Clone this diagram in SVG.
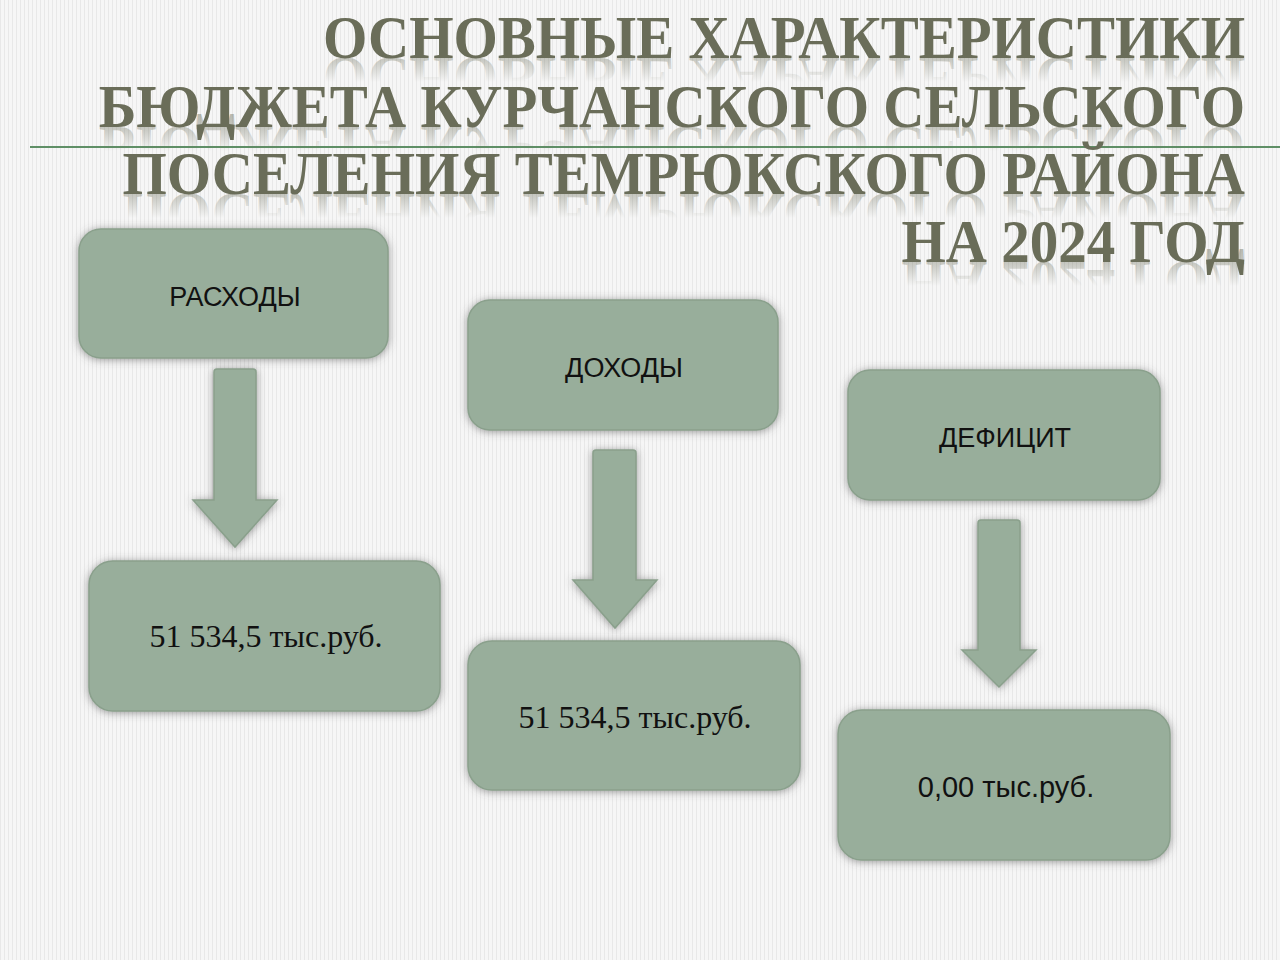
<svg xmlns="http://www.w3.org/2000/svg" xmlns:xlink="http://www.w3.org/1999/xlink" width="1280" height="960" viewBox="0 0 1280 960">
<style>
.title{font-family:"Liberation Serif","Times New Roman",serif;font-weight:bold;font-size:57px;text-anchor:end;}
.box{fill:#98ae9b;stroke:#8aa08c;stroke-width:1.5;filter:url(#glow);}
.arrow{fill:#98ae9b;stroke:#8aa08c;stroke-width:1.5;filter:url(#glow);}
.lbl{font-family:"Liberation Sans",Arial,sans-serif;font-size:27px;fill:#111;text-anchor:middle;}
.val{font-family:"Liberation Serif","Times New Roman",serif;font-size:32px;fill:#111;text-anchor:middle;}
.valsans{font-family:"Liberation Sans",Arial,sans-serif;font-size:29px;fill:#111;text-anchor:middle;}
</style>
<defs>
<pattern id="stripes" width="4" height="4" patternUnits="userSpaceOnUse">
<rect width="4" height="4" fill="#f6f6f6"/>
<rect width="1" height="4" fill="#e8e8e8"/>
</pattern>
<filter id="glow" x="-10%" y="-10%" width="120%" height="120%">
<feGaussianBlur in="SourceAlpha" stdDeviation="4" result="b"/>
<feOffset dx="0" dy="1" in="b" result="o"/>
<feFlood flood-color="#555" flood-opacity="0.6"/>
<feComposite in2="o" operator="in" result="s"/>
<feMerge><feMergeNode in="s"/><feMergeNode in="SourceGraphic"/></feMerge>
</filter>
<linearGradient id="refl" x1="0" y1="0" x2="0" y2="1">
<stop offset="0" stop-color="#6a6d59" stop-opacity="0"/>
<stop offset="0.45" stop-color="#6a6d59" stop-opacity="0"/>
<stop offset="0.8" stop-color="#6a6d59" stop-opacity="0.35"/>
<stop offset="1" stop-color="#6a6d59" stop-opacity="0.45"/>
</linearGradient>
</defs>
<rect width="1280" height="960" fill="url(#stripes)"/>
<line x1="30" y1="147" x2="1280" y2="147" stroke="#5f8f66" stroke-width="2"/>
<g id="title">
<g id="reflections" fill="url(#refl)">
<use xlink:href="#t1" transform="translate(0,116) scale(1,-1)"/>
<use xlink:href="#t2" transform="translate(0,254) scale(1,-1)"/>
<use xlink:href="#t3" transform="translate(0,388) scale(1,-1)"/>
<use xlink:href="#t4" transform="translate(0,524) scale(1,-1)"/>
</g>
<g fill="#6a6d59">
<text id="t1" class="title" x="1245" y="0" transform="translate(0,58) scale(1,1.07)">ОСНОВНЫЕ ХАРАКТЕРИСТИКИ</text>
<text id="t2" class="title" x="1245" y="0" transform="translate(0,127) scale(1,1.07)">БЮДЖЕТА КУРЧАНСКОГО СЕЛЬСКОГО</text>
<text id="t3" class="title" x="1245" y="0" transform="translate(0,194) scale(1,1.07)">ПОСЕЛЕНИЯ ТЕМРЮКСКОГО РАЙОНА</text>
<text id="t4" class="title" x="1245" y="0" transform="translate(0,262) scale(1,1.07)">НА 2024 ГОД</text>
</g>
</g>
<g id="connectors">
<path class="arrow" d="M214,372 Q214,369 217,369 L253,369 Q256,369 256,372 L256,500 L277,500 L235,547 L193,500 L214,500 Z"/>
<path class="arrow" d="M593,453 Q593,450 596,450 L633,450 Q636,450 636,453 L636,580 L657,580 L615,628 L573,580 L593,580 Z"/>
<path class="arrow" d="M978,523 Q978,520 981,520 L1017,520 Q1020,520 1020,523 L1020,650 L1036,650 L999,687 L962,650 L978,650 Z"/>
</g>
<g id="n-rashody">
<rect class="box" x="79" y="229" width="309" height="129" rx="22"/>
<text class="lbl" x="235" y="306">РАСХОДЫ</text>
</g>
<g id="n-rashody-val">
<rect class="box" x="89" y="561" width="351" height="150" rx="24"/>
<text class="val" x="266" y="647">51 534,5 тыс.руб.</text>
</g>
<g id="n-dohody">
<rect class="box" x="468" y="300" width="310" height="130" rx="22"/>
<text class="lbl" x="624" y="377">ДОХОДЫ</text>
</g>
<g id="n-dohody-val">
<rect class="box" x="468" y="641" width="332" height="149" rx="24"/>
<text class="val" x="635" y="728">51 534,5 тыс.руб.</text>
</g>
<g id="n-deficit">
<rect class="box" x="848" y="370" width="312" height="130" rx="22"/>
<text class="lbl" x="1005" y="447">ДЕФИЦИТ</text>
</g>
<g id="n-deficit-val">
<rect class="box" x="838" y="710" width="332" height="150" rx="24"/>
<text class="valsans" x="1006" y="797">0,00 тыс.руб.</text>
</g>
</svg>
